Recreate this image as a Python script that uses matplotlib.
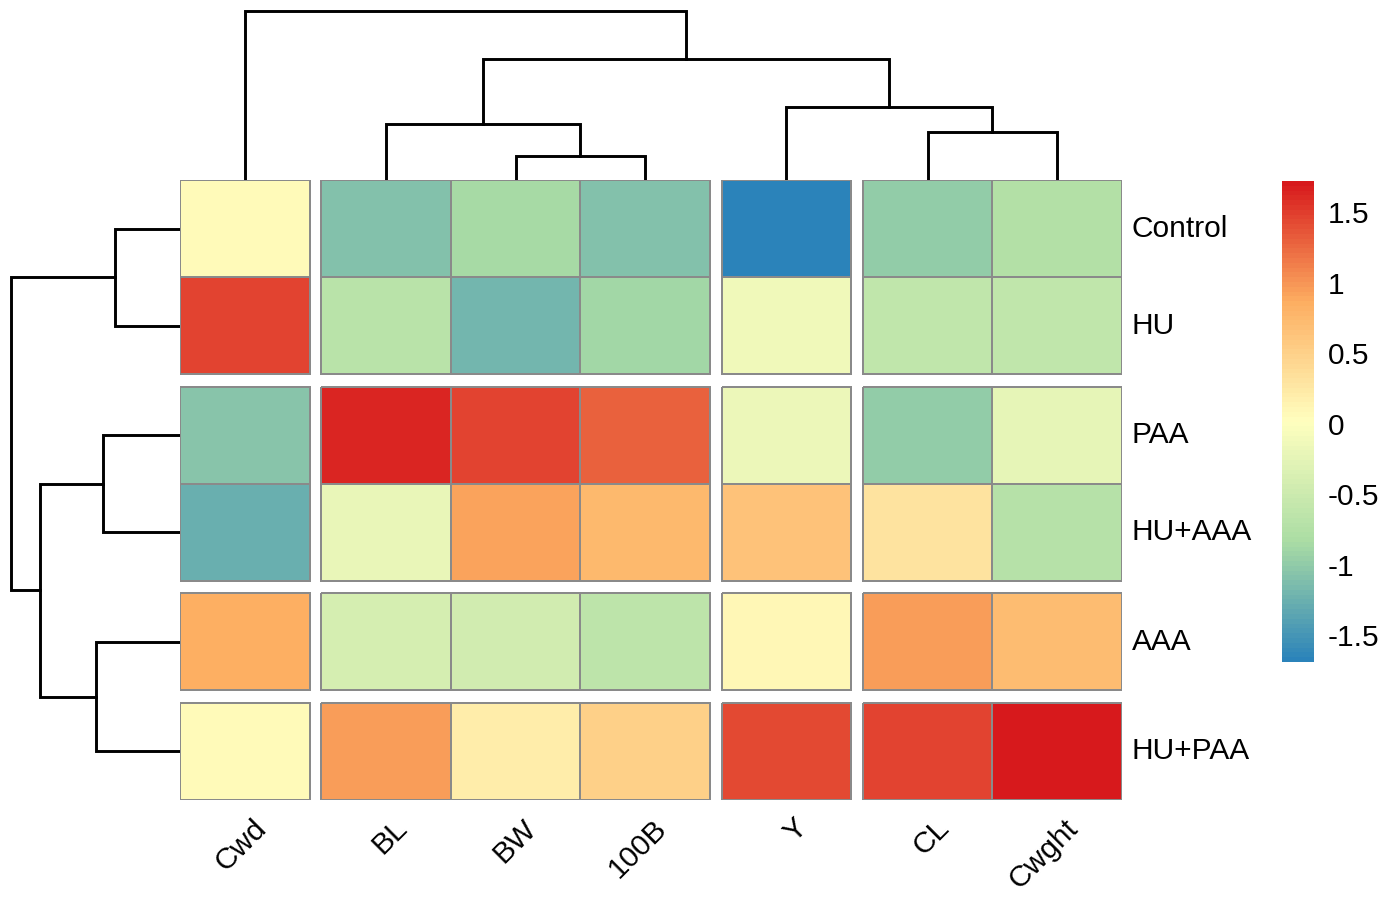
import numpy as np
import matplotlib
matplotlib.use('Agg')
import matplotlib.pyplot as plt
from matplotlib.colors import LinearSegmentedColormap, Normalize
from matplotlib.cm import ScalarMappable

plt.rcParams['font.family'] = ['Liberation Sans', 'DejaVu Sans']

# %% data (display order)
col_labels = ['Cwd', 'BL', 'BW', '100B', 'Y', 'CL', 'Cwght']
row_labels = ['Control', 'HU', 'PAA', 'HU+AAA', 'AAA', 'HU+PAA']

cwd = [0.05, 1.45, -1.05, -1.25, 0.85, 0.05]
bl = [-1.10, -0.70, 1.62, -0.20, -0.40, 0.95]
bw = [-0.84, -1.20, 1.45, 0.92, -0.45, 0.20]
b100 = [-1.10, -0.90, 1.30, 0.75, -0.65, 0.50]
y_col = [-1.69, -0.15, -0.17, 0.65, 0.10, 1.42]
cl = [-1.00, -0.60, -0.98, 0.30, 0.95, 1.45]
cwght = [-0.75, -0.60, -0.25, -0.72, 0.70, 1.72]

# gaps after these positions (cutree)
col_gaps_after = [0, 3, 4]
row_gaps_after = [1, 3, 4]

# dendrograms: linkage style, leaves are 0..n-1 in display order
col_merge_a = [2, 5, 1, 4, 9, 0]
col_merge_b = [3, 6, 7, 8, 10, 11]
col_merge_h = [24, 48, 56, 73, 121, 169]

row_merge_a = [0, 2, 4, 7, 6]
row_merge_b = [1, 3, 5, 8, 9]
row_merge_h = [65, 77, 84, 140, 169]

cbar_ticks = [-1.5, -1, -0.5, 0, 0.5, 1, 1.5]

# %% setup
values = np.array([cwd, bl, bw, b100, y_col, cl, cwght]).T
n_rows, n_cols = values.shape
cmap = LinearSegmentedColormap.from_list(
    'spec', ['#2b83ba', '#abdda4', '#ffffbf', '#fdae61', '#d7191c'], N=100)
norm = Normalize(vmin=values.min(), vmax=values.max())

col_gap = 0.09
row_gap = 0.13


def lefts(n, gaps_after, gap):
    out = []
    off = 0.0
    for i in range(n):
        out.append(i + off)
        if i in gaps_after:
            off += gap
    return np.array(out)


def blocks(n, gaps_after):
    res = []
    cur = []
    for i in range(n):
        cur.append(i)
        if i in gaps_after:
            res.append(cur)
            cur = []
    res.append(cur)
    return res


xl = lefts(n_cols, col_gaps_after, col_gap)
yl = lefts(n_rows, row_gaps_after, row_gap)

W, H = 1386, 901
fig = plt.figure(figsize=(W / 100, H / 100), dpi=100)


def px_axes(x0, y0, x1, y1):
    return fig.add_axes([x0 / W, 1 - y1 / H, (x1 - x0) / W, (y1 - y0) / H])


ax = px_axes(180, 180, 1122, 800)
for rb in blocks(n_rows, row_gaps_after):
    for cb in blocks(n_cols, col_gaps_after):
        xe = np.append(xl[cb], xl[cb[-1]] + 1)
        ye = np.append(yl[rb], yl[rb[-1]] + 1)
        ax.pcolormesh(xe, ye, values[np.ix_(rb, cb)], cmap=cmap, norm=norm,
                      edgecolors='#8a8a8a', linewidth=1.4)
ax.set_xlim(0, xl[-1] + 1)
ax.set_ylim(yl[-1] + 1, 0)
ax.axis('off')

# row labels
for i, lab in enumerate(row_labels):
    ax.annotate(lab, xy=(xl[-1] + 1, yl[i] + 0.5), xytext=(7, 0),
                textcoords='offset points', va='center', ha='left', fontsize=21.5)
# column labels
for j, lab in enumerate(col_labels):
    ax.annotate(lab, xy=(xl[j] + 0.5, yl[-1] + 1), xytext=(5, -10),
                textcoords='offset points', rotation=45, rotation_mode='anchor',
                ha='right', va='top', fontsize=21.5)


# %% dendrograms
def draw_dendro(dax, leaf_pos, ma, mb, mh, horizontal):
    n = len(leaf_pos)
    pos = list(leaf_pos)
    hgt = [0.0] * n
    for a, b, h in zip(ma, mb, mh):
        xa, xb = pos[a], pos[b]
        xs = [xa, xa, xb, xb]
        hs = [hgt[a], h, h, hgt[b]]
        if horizontal:
            dax.plot(hs, xs, color='black', lw=2.1, solid_joinstyle='miter')
        else:
            dax.plot(xs, hs, color='black', lw=2.1, solid_joinstyle='miter')
        pos.append((xa + xb) / 2)
        hgt.append(h)


top = px_axes(180, 8, 1122, 180)
draw_dendro(top, xl + 0.5, col_merge_a, col_merge_b, col_merge_h, False)
top.set_xlim(ax.get_xlim())
top.set_ylim(0, 172)
top.axis('off')

left = px_axes(8, 180, 180, 800)
draw_dendro(left, yl + 0.5, row_merge_a, row_merge_b, row_merge_h, True)
left.set_ylim(ax.get_ylim())
left.set_xlim(172, 0)
left.axis('off')

# %% colorbar
cax = px_axes(1282, 181, 1314, 662)
cb = fig.colorbar(ScalarMappable(norm=norm, cmap=cmap), cax=cax, ticks=cbar_ticks)
cb.outline.set_visible(False)
cb.ax.set_yticklabels(['%g' % t for t in cbar_ticks])
cb.ax.tick_params(length=0, labelsize=21.5, pad=10)

fig.savefig('out.png', dpi=100)
